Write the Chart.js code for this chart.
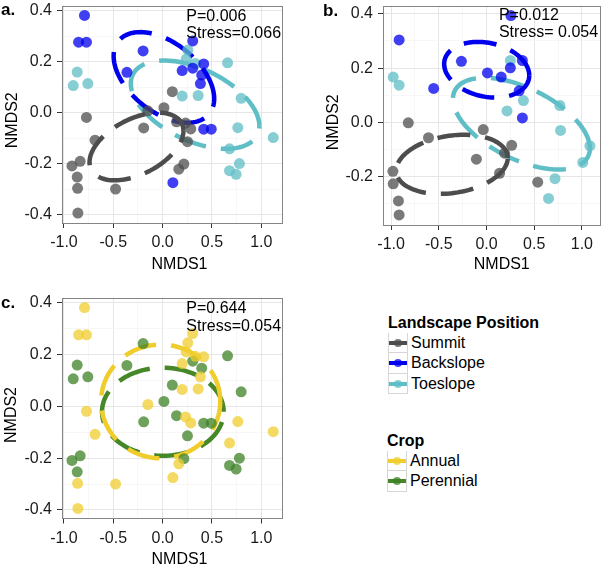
<!DOCTYPE html>
<html>
<head>
<meta charset="utf-8">
<script src="https://cdn.jsdelivr.net/npm/chart.js@4.4.1/dist/chart.umd.min.js"></script>
<style>
  body { margin: 0; background: #fff; width: 606px; height: 569px; position: relative; overflow: hidden;
         font-family: 'Liberation Sans', Arial, Helvetica, sans-serif; }
  canvas { position: absolute; }
  .tag { position: absolute; font-weight: bold; font-size: 17px; line-height: 20px; }
  .leg { position: absolute; font-size: 16px; color: #000; }
  .leg .ttl { font-weight: bold; height: 20px; line-height: 20px; margin-bottom: 0px; }
  .leg .row { height: 20.4px; line-height: 20.4px; display: flex; align-items: center; }
  .leg .key { position: relative; width: 18px; height: 19.4px; border: 1px solid #d6d6d6; border-top-width: 0; margin-right: 3px; box-sizing: content-box; }
  .leg .row:first-of-type .key { border-top-width: 1px; height: 18.4px; }
  .leg .key i { position: absolute; left: 0; right: 0; top: 8px; height: 4px; }
  .leg .key b { position: absolute; left: 5px; top: 6px; width: 8px; height: 8px; border-radius: 50%; }
</style>
</head>
<body>
<canvas id="chartA" width="290" height="275" style="left:0;top:0"></canvas>
<canvas id="chartB" width="285" height="275" style="left:321px;top:0"></canvas>
<canvas id="chartC" width="290" height="280" style="left:0;top:290px"></canvas>

<div class="tag" style="left:1px;top:0px">a.</div>
<div class="tag" style="left:323px;top:1px">b.</div>
<div class="tag" style="left:1px;top:293px">c.</div>

<div class="leg" style="left:388px;top:313px">
  <div class="ttl">Landscape Position</div>
  <div class="row"><span class="key"><i style="background:rgb(77,77,77)"></i><b style="background:rgba(77,77,77,0.75)"></b></span>Summit</div>
  <div class="row"><span class="key"><i style="background:rgb(0,0,238)"></i><b style="background:rgba(0,0,238,0.75)"></b></span>Backslope</div>
  <div class="row"><span class="key"><i style="background:rgb(95,190,198)"></i><b style="background:rgba(95,190,198,0.75)"></b></span>Toeslope</div>
</div>
<div class="leg" style="left:387px;top:431px">
  <div class="ttl">Crop</div>
  <div class="row"><span class="key"><i style="background:rgb(240,205,45)"></i><b style="background:rgba(240,205,45,0.75)"></b></span>Annual</div>
  <div class="row"><span class="key"><i style="background:rgb(70,135,40)"></i><b style="background:rgba(62,130,37,0.75)"></b></span>Perennial</div>
</div>

<script>
const FONT = "'Liberation Sans', Arial, Helvetica, sans-serif";

// ---- panel a: landscape position, first ordination ----
const aSummitX = [0.098, -0.150, 0.013, -0.772, -0.192, 0.141, 0.232, 0.285, 0.252, -0.685, 0.164, 0.215, -0.919, -0.836, -0.866, -0.862, -0.477, -0.859];
const aSummitY = [0.082, 0.007, 0.019, -0.019, -0.060, -0.036, -0.041, -0.064, -0.114, -0.108, -0.222, -0.202, -0.209, -0.191, -0.253, -0.297, -0.300, -0.394];
const aBackX = [-0.792, -0.852, -0.772, -0.198, -0.362, 0.305, 0.198, 0.305, 0.416, 0.383, 0.396, 0.416, 0.493, 0.104];
const aBackY = [0.381, 0.276, 0.276, 0.242, 0.158, 0.281, 0.165, 0.174, 0.191, 0.114, 0.147, -0.065, -0.065, -0.275];
const aToeX = [-0.866, -0.906, -0.758, 0.255, 0.239, 0.332, 0.658, 0.198, 0.360, 0.796, 0.762, 1.121, 0.678, 0.778, 0.678, 0.745];
const aToeY = [0.159, 0.106, 0.114, 0.245, 0.210, 0.193, 0.195, 0.065, 0.067, 0.056, -0.059, -0.098, -0.142, -0.200, -0.228, -0.242];
// ellipse: centre x, centre y, var x, cov xy, var y
const aEllipses = [
  [-0.265, -0.133, 0.2266, 0.0293, 0.01759],
  [0.013, 0.138, 0.2597, -0.0426, 0.03157],
  [0.329, 0.031, 0.4245, -0.0542, 0.02996]
];

// ---- panel b: landscape position, second ordination ----
const bSummitX = [-0.820, -0.608, -0.034, -0.106, 0.264, 0.189, 0.137, 0.537, -0.981, -0.978, -0.923, -0.916];
const bSummitY = [-0.002, -0.057, -0.027, -0.136, -0.085, -0.114, -0.188, -0.221, -0.181, -0.227, -0.290, -0.342];
const bBackX = [0.256, -0.916, -0.263, -0.554, 0.010, 0.154, 0.250, 0.376, 0.342, 0.376];
const bBackY = [0.394, 0.304, 0.225, 0.125, 0.182, 0.167, 0.201, 0.228, 0.116, 0.016];
const bToeX = [-0.978, -0.916, 0.250, 0.387, 0.215, 0.769, 0.776, 1.084, 1.009, 0.718, 0.650];
const bToeY = [0.167, 0.137, 0.228, 0.080, 0.042, 0.062, -0.030, -0.087, -0.148, -0.208, -0.281];
const bEllipses = [
  [-0.362, -0.155, 0.3418, 0.0136, 0.0119],
  [0.002, 0.194, 0.199, -0.00932, 0.01055],
  [0.366, -0.005, 0.5155, -0.0653, 0.0286]
];

// ---- panel c: crop, same ordination as a ----
const cAnnualX = [-0.792, -0.852, -0.772, 0.305, 0.198, 0.416, 0.383, 0.104, 0.255, 0.239, 0.332, 0.198, 0.360, 0.762, 1.121, 0.678, -0.150, 0.232, 0.285, -0.772, -0.685, 0.164, -0.862, -0.477, -0.859];
const cAnnualY = [0.381, 0.276, 0.276, 0.281, 0.165, 0.191, 0.114, -0.275, 0.245, 0.210, 0.193, 0.065, 0.067, -0.059, -0.098, -0.142, 0.007, -0.041, -0.064, -0.019, -0.108, -0.222, -0.297, -0.300, -0.394];
const cPerennialX = [-0.198, -0.362, 0.305, 0.396, 0.416, 0.493, -0.866, -0.906, -0.758, 0.658, 0.796, 0.778, 0.678, 0.745, 0.098, 0.013, -0.192, 0.141, 0.252, 0.215, -0.919, -0.836, -0.866];
const cPerennialY = [0.242, 0.158, 0.174, 0.147, -0.065, -0.065, 0.159, 0.106, 0.114, 0.195, 0.056, -0.200, -0.228, -0.242, 0.082, 0.019, -0.060, -0.036, -0.114, -0.202, -0.209, -0.191, -0.253];
const cEllipses = [
  [-0.020, 0.019, 0.365, 0.0, 0.0481],
  [0.002, -0.021, 0.380, 0.0, 0.0289]
];

// ---- ticks and labels ----
const xMajor = [-1.0, -0.5, 0.0, 0.5, 1.0];
const xMinor = [-0.75, -0.25, 0.25, 0.75];
const yMajorAC = [-0.4, -0.2, 0.0, 0.2, 0.4];
const yMajorB = [-0.2, 0.0, 0.2, 0.4];
const yMinor = [-0.3, -0.1, 0.1, 0.3];
const statsA = ['P=0.006', 'Stress=0.066'];
const statsB = ['P=0.012', 'Stress= 0.054'];
const statsC = ['P=0.644', 'Stress=0.054'];

const groupCols = [[77, 77, 77], [0, 0, 238], [95, 190, 198]];
const cropLineCols = [[240, 205, 45], [70, 135, 40]];
const cropPtCols = [[240, 205, 45], [62, 130, 37]];

function rgb(c, a) { return a == null ? 'rgb(' + c.join(',') + ')' : 'rgba(' + c.join(',') + ',' + a + ')'; }
function pts(xs, ys) { return xs.map((x, i) => ({x: x, y: ys[i]})); }

function ellipsePts(e) {
  const [cx, cy, sxx, sxy, syy] = e;
  const ax = Math.sqrt(sxx), ay = sxy / ax, by = Math.sqrt(syy - ay * ay);
  const out = [];
  for (let i = 0; i <= 120; i++) {
    const t = Math.PI * 2 * i / 120;
    out.push({x: cx + ax * Math.cos(t), y: cy + ay * Math.cos(t) + by * Math.sin(t)});
  }
  return out;
}

// panel border, stats text and axis titles (titles sit a little off-centre in the original)
const panelDecor = {
  id: 'panelDecor',
  afterDatasetsDraw(chart, args, opts) {
    const {ctx, chartArea: a, scales} = chart;
    ctx.save();
    ctx.strokeStyle = '#858585';
    ctx.lineWidth = 1;
    ctx.strokeRect(Math.round(a.left) + 0.5, Math.round(a.top) + 0.5, Math.round(a.right - a.left) - 1, Math.round(a.bottom - a.top) - 1);
    ctx.fillStyle = '#000';
    ctx.font = '16px ' + FONT;
    ctx.textAlign = 'left';
    ctx.textBaseline = 'middle';
    opts.lines.forEach((t, i) => {
      ctx.fillText(t, scales.x.getPixelForValue(opts.x), scales.y.getPixelForValue(opts.y[i]));
    });
    ctx.textAlign = 'center';
    ctx.fillText('NMDS1', (a.left + a.right) / 2 + opts.shift[0], chart.height - 10);
    ctx.translate(opts.yTitleX, (a.top + a.bottom) / 2 + opts.shift[1]);
    ctx.rotate(-Math.PI / 2);
    ctx.fillText('NMDS2', 0, 0);
    ctx.restore();
  }
};

function axis(min, max, major, minor, horizontal, size) {
  const all = major.concat(minor).sort((p, q) => p - q);
  return {
    type: 'linear', min: min, max: max,
    afterBuildTicks: s => { s.ticks = all.map(v => ({value: v})); },
    afterFit: s => {
      if (horizontal) { s.height = size; s.paddingLeft = 0; s.paddingRight = 0; }
      else { s.width = size; s.paddingTop = 0; s.paddingBottom = 0; }
    },
    ticks: {
      autoSkip: false, maxRotation: 0, padding: 5, color: '#1a1a1a',
      font: {size: 16, family: FONT},
      callback: v => major.includes(v) ? v.toFixed(1) : ''
    },
    grid: {
      color: c => major.includes(c.tick.value) ? '#e6e6e6' : '#f4f4f4',
      lineWidth: c => major.includes(c.tick.value) ? 1 : 0.7,
      tickLength: 5,
      tickColor: c => major.includes(c.tick.value) ? '#333' : 'rgba(0,0,0,0)'
    },
    border: {display: false},
    title: {display: false}
  };
}

function pointSet(data, col) {
  return {data: data, backgroundColor: rgb(col, 0.75), borderWidth: 0, pointRadius: 5.5, order: 0};
}
function ellipseSet(e, col) {
  return {data: ellipsePts(e), showLine: true, borderColor: rgb(col), borderWidth: 4.5, borderDash: [33, 15],
          borderCapStyle: 'butt', pointRadius: 0, fill: false, tension: 0, order: 1};
}

function panel(id, datasets, xr, yr, yMajor, pad, xH, stats) {
  new Chart(document.getElementById(id), {
    type: 'scatter',
    data: {datasets: datasets},
    options: {
      responsive: false, animation: false,
      layout: {padding: pad},
      plugins: {legend: {display: false}, tooltip: {enabled: false}, panelDecor: stats},
      scales: {
        x: axis(xr[0], xr[1], xMajor, xMinor, true, xH),
        y: axis(yr[0], yr[1], yMajor, yMinor, false, 62)
      }
    },
    plugins: [panelDecor]
  });
}

panel('chartA', [
  pointSet(pts(aSummitX, aSummitY), groupCols[0]),
  pointSet(pts(aBackX, aBackY), groupCols[1]),
  pointSet(pts(aToeX, aToeY), groupCols[2]),
  ellipseSet(aEllipses[0], groupCols[0]),
  ellipseSet(aEllipses[1], groupCols[1]),
  ellipseSet(aEllipses[2], groupCols[2])
], [-1.02, 1.22], [-0.433, 0.42], yMajorAC, {left: 0, top: 2, right: 7, bottom: 0}, 52,
  {lines: statsA, x: 0.24, y: [0.378, 0.311], shift: [7, 6], yTitleX: 13});

panel('chartB', [
  pointSet(pts(bSummitX, bSummitY), groupCols[0]),
  pointSet(pts(bBackX, bBackY), groupCols[1]),
  pointSet(pts(bToeX, bToeY), groupCols[2]),
  ellipseSet(bEllipses[0], groupCols[0]),
  ellipseSet(bEllipses[1], groupCols[1]),
  ellipseSet(bEllipses[2], groupCols[2])
], [-1.085, 1.195], [-0.379, 0.431], yMajorB, {left: 0, top: 3, right: 2, bottom: 0}, 50,
  {lines: statsB, x: 0.13, y: [0.392, 0.331], shift: [10, 7], yTitleX: 12.5});

panel('chartC', [
  pointSet(pts(cAnnualX, cAnnualY), cropPtCols[0]),
  pointSet(pts(cPerennialX, cPerennialY), cropPtCols[1]),
  ellipseSet(cEllipses[0], cropLineCols[0]),
  ellipseSet(cEllipses[1], cropLineCols[1])
], [-1.02, 1.22], [-0.433, 0.42], yMajorAC, {left: 0, top: 7.5, right: 7, bottom: 0}, 51.5,
  {lines: statsC, x: 0.24, y: [0.377, 0.309], shift: [7, 7], yTitleX: 12});
</script>
</body>
</html>
